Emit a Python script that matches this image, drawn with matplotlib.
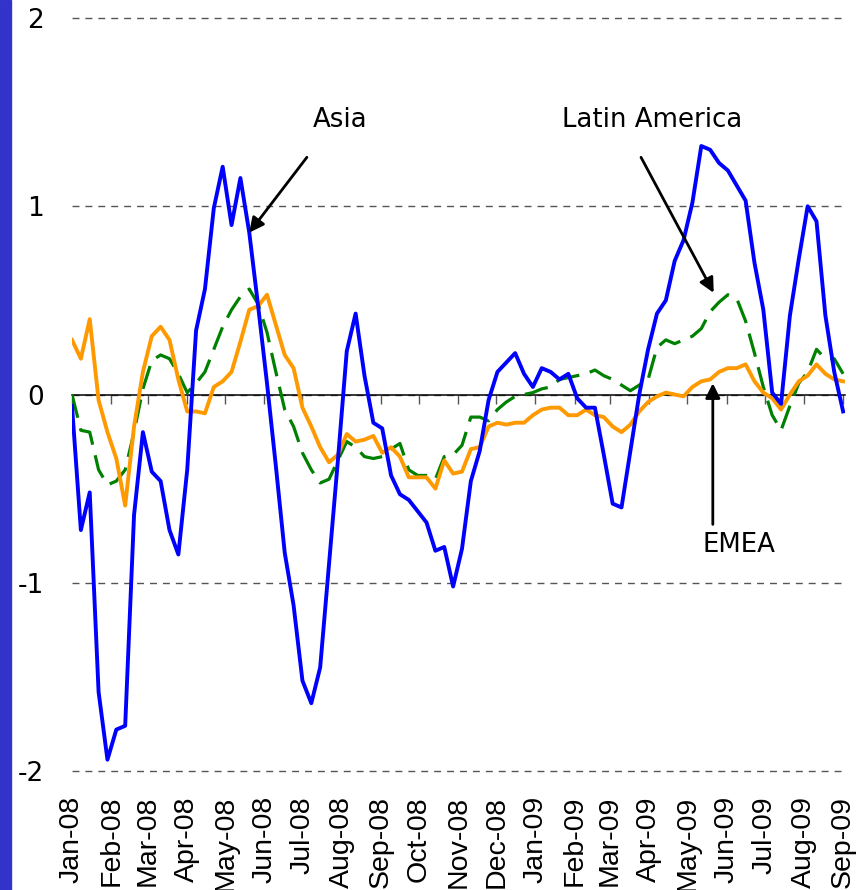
import matplotlib
matplotlib.use("Agg")
import matplotlib.pyplot as plt
import matplotlib.dates as mdates
import pandas as pd
from matplotlib.patches import Rectangle

# weekly observations, Jan-08 .. Sep-09
dates = pd.date_range("2008-01-01", periods=88, freq="7D")

asia = [-0.06, -0.72, -0.52, -1.58, -1.94, -1.78, -1.76, -0.64, -0.20, -0.41,
        -0.46, -0.72, -0.85, -0.40, 0.34, 0.56, 0.99, 1.21, 0.90, 1.15,
        0.86, 0.47, 0.06, -0.38, -0.84, -1.12, -1.52, -1.64, -1.45, -0.90,
        -0.35, 0.23, 0.43, 0.10, -0.15, -0.18, -0.43, -0.53, -0.56, -0.62,
        -0.68, -0.83, -0.81, -1.02, -0.82, -0.46, -0.30, -0.03, 0.12, 0.17,
        0.22, 0.11, 0.04, 0.14, 0.12, 0.08, 0.11, -0.02, -0.07, -0.07,
        -0.32, -0.58, -0.60, -0.30, 0.00, 0.24, 0.43, 0.50, 0.71, 0.82,
        1.02, 1.32, 1.30, 1.23, 1.19, 1.11, 1.03, 0.70, 0.45, 0.01,
        -0.05, 0.42, 0.72, 1.00, 0.92, 0.42, 0.12, -0.09]

latam = [0.00, -0.19, -0.20, -0.40, -0.48, -0.46, -0.40, -0.20, 0.03, 0.18,
         0.21, 0.19, 0.11, 0.01, 0.06, 0.12, 0.24, 0.36, 0.45, 0.52,
         0.56, 0.48, 0.33, 0.12, -0.08, -0.17, -0.31, -0.40, -0.47, -0.45,
         -0.35, -0.25, -0.28, -0.33, -0.34, -0.33, -0.29, -0.26, -0.40, -0.43,
         -0.43, -0.45, -0.33, -0.32, -0.27, -0.12, -0.12, -0.14, -0.08, -0.04,
         -0.01, 0.00, 0.01, 0.03, 0.04, 0.08, 0.09, 0.10, 0.11, 0.13,
         0.10, 0.08, 0.05, 0.02, 0.05, 0.08, 0.25, 0.29, 0.27, 0.29,
         0.31, 0.35, 0.44, 0.49, 0.53, 0.51, 0.39, 0.22, 0.04, -0.11,
         -0.19, -0.06, 0.06, 0.12, 0.24, 0.19, 0.19, 0.11]

emea = [0.29, 0.19, 0.40, -0.03, -0.20, -0.34, -0.59, -0.17, 0.12, 0.31,
        0.36, 0.29, 0.08, -0.09, -0.09, -0.10, 0.04, 0.07, 0.12, 0.28,
        0.45, 0.47, 0.53, 0.37, 0.21, 0.14, -0.07, -0.17, -0.28, -0.36,
        -0.32, -0.21, -0.25, -0.24, -0.22, -0.31, -0.28, -0.33, -0.44, -0.44,
        -0.44, -0.50, -0.35, -0.42, -0.41, -0.29, -0.28, -0.17, -0.15, -0.16,
        -0.15, -0.15, -0.11, -0.08, -0.07, -0.07, -0.11, -0.11, -0.08, -0.11,
        -0.12, -0.17, -0.20, -0.16, -0.09, -0.04, -0.01, 0.01, 0.00, -0.01,
        0.04, 0.07, 0.08, 0.12, 0.14, 0.14, 0.16, 0.07, 0.01, -0.02,
        -0.08, 0.00, 0.07, 0.10, 0.16, 0.11, 0.08, 0.07]

months = pd.date_range("2008-01-01", "2009-09-01", freq="MS")
month_labels = [m.strftime("%b-%y") for m in months]
yticks = [-2, -1, 0, 1, 2]

x = mdates.date2num(dates)
xm = mdates.date2num(months)


def wk(i):
    # position of a (fractional) week number on the date axis
    return x[0] + 7 * i


fig = plt.figure(figsize=(8.63, 8.90), dpi=100)
ax = fig.add_axes([72 / 863, 1 - 771 / 890, 773 / 863, 753 / 890])

ax.plot(x, latam, color="#008000", lw=2.3, dashes=(7.5, 3.4))
ax.plot(x, emea, color="#FF9900", lw=2.8)
ax.plot(x, asia, color="#0000FF", lw=2.8)

ax.set_xlim(x[0], x[-1] + 1.5)
ax.set_ylim(-2, 2)

for s in ["top", "left", "right"]:
    ax.spines[s].set_visible(False)
ax.spines["bottom"].set_position(("data", 0))
ax.spines["bottom"].set_linewidth(1.1)
ax.spines["bottom"].set_zorder(1)

ax.set_xticks(xm)
ax.tick_params(axis="x", direction="out", length=6.5, width=1, color="#555555",
               labelbottom=False)

ax.set_yticks(yticks)
ax.set_yticklabels([str(v) for v in yticks], fontsize=19, family="DejaVu Sans")
ax.tick_params(axis="y", length=0, pad=20)
ax.yaxis.grid(True, linestyle=(0, (5, 4.3)), color="#555555", lw=1)
for gl in ax.get_ygridlines():
    gl.set_clip_on(False)
ax.set_axisbelow(True)

sec = ax.secondary_xaxis(0)
sec.set_xticks(xm)
sec.set_xticklabels(month_labels, rotation=90, fontsize=20.5,
                    family="Liberation Sans")
sec.tick_params(length=0, pad=18)
sec.spines["bottom"].set_visible(False)

arrow = dict(arrowstyle="-|>", color="black", lw=2, mutation_scale=22,
             shrinkA=0, shrinkB=0)
ax.annotate("", xy=(wk(20), asia[20]), xytext=(wk(26.5), 1.26), arrowprops=arrow)
ax.annotate("", xy=(wk(72.4), 0.54), xytext=(wk(64.2), 1.26), arrowprops=arrow)
ax.annotate("", xy=(wk(72.3), 0.06), xytext=(wk(72.3), -0.69), arrowprops=arrow)

txt = dict(fontsize=18.7, family="DejaVu Sans", ha="center", va="center")
ax.text(wk(30.2), 1.46, "Asia", **txt)
ax.text(wk(65.4), 1.46, "Latin America", **txt)
ax.text(wk(75.2), -0.80, "EMEA", **txt)

fig.add_artist(Rectangle((0, 0), 11 / 863, 1, transform=fig.transFigure,
                         color="#3333CC", zorder=10))

fig.savefig("out.png", dpi=100)
